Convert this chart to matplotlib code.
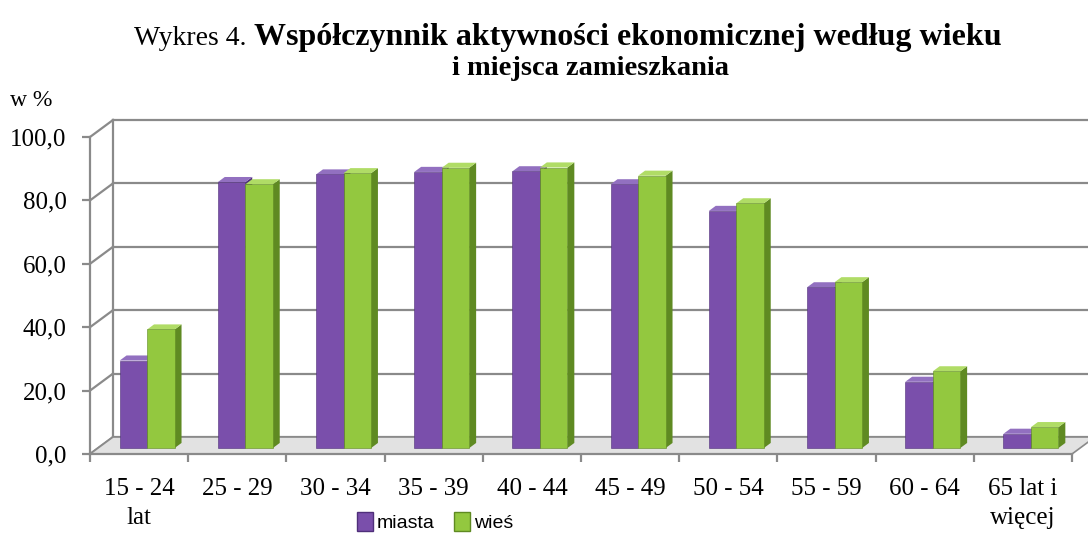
import numpy as np
import matplotlib
matplotlib.use("Agg")
import matplotlib.pyplot as plt
from matplotlib.patches import Polygon, Patch

# data
categories = ["15 - 24\nlat", "25 - 29", "30 - 34", "35 - 39", "40 - 44",
              "45 - 49", "50 - 54", "55 - 59", "60 - 64", "65 lat i\nwięcej"]
miasta = [27.6, 83.9, 86.3, 87.1, 87.3, 83.2, 74.8, 50.7, 20.9, 4.5]
wies = [37.4, 83.2, 86.7, 88.4, 88.5, 85.9, 77.2, 52.3, 24.2, 6.6]
yticks = [0, 20, 40, 60, 80, 100]
series_names = ["miasta", "wieś"]

plt.rcParams["font.family"] = ["Liberation Serif", "DejaVu Serif"]

GRID = "#8a8a8a"
DX, DY = 0.234, 5.36      # depth of the fake 3d box, in data units
F0, F1 = 0.35, 0.65       # depth of bar front / back faces
W = 0.28                  # bar width

colors = {
    "miasta": ("#7a4fab", "#4f2f7a", "#9270c0"),
    "wieś": ("#93c83f", "#5f8a22", "#b0dc66"),
}

fig = plt.figure(figsize=(10.88, 5.41), dpi=100)
ax = fig.add_axes([90 / 1088, 87 / 541, 982 / 1088, 317 / 541])
n = len(categories)
ax.set_xlim(0, n)
ax.set_ylim(0, 100)

# back wall gridlines + left wall diagonals
for v in yticks:
    ax.plot([DX, n + DX + 0.5], [v + DY, v + DY], color=GRID, lw=1.6,
            clip_on=False, zorder=1)
    ax.plot([0, DX], [v, v + DY], color=GRID, lw=1.6, clip_on=False, zorder=1)
ax.plot([DX, DX], [DY, 100 + DY], color=GRID, lw=1.6, clip_on=False, zorder=1)

# floor
floor = Polygon([(0, 0), (n, 0), (n + DX, DY), (DX, DY)], closed=True,
                facecolor="#e2e2e2", edgecolor=GRID, lw=1.2, clip_on=False,
                zorder=1.5)
ax.add_patch(floor)


def draw_bar(x0, v, name):
    front, side, top = colors[name]
    x1 = x0 + W
    fx0, fx1 = x0 + F0 * DX, x1 + F0 * DX
    bx0, bx1 = x0 + F1 * DX, x1 + F1 * DX
    y0, y1 = F0 * DY, F1 * DY
    ax.add_patch(Polygon([(fx1, y0), (bx1, y1), (bx1, v + y1), (fx1, v + y0)],
                         facecolor=side, edgecolor="none", clip_on=False, zorder=3))
    ax.add_patch(Polygon([(fx0, v + y0), (fx1, v + y0), (bx1, v + y1), (bx0, v + y1)],
                         facecolor=top, edgecolor="none", clip_on=False, zorder=3))
    ax.add_patch(Polygon([(fx0, y0), (fx1, y0), (fx1, v + y0), (fx0, v + y0)],
                         facecolor=front, edgecolor=side, lw=0.4, clip_on=False,
                         zorder=3))


for i in range(n):
    c = i + 0.5
    draw_bar(c - W, miasta[i], "miasta")
    draw_bar(c, wies[i], "wieś")

# axes styling
for s in ["top", "right"]:
    ax.spines[s].set_visible(False)
for s in ["left", "bottom"]:
    ax.spines[s].set_color(GRID)
    ax.spines[s].set_linewidth(1.6)
ax.set_yticks(yticks)
ax.set_yticklabels([f"{v:.1f}".replace(".", ",") for v in yticks], fontsize=18)
ax.set_xticks(np.arange(n + 1))
ax.set_xticklabels([])
ax.set_xticks(np.arange(n) + 0.5, minor=True)
ax.set_xticklabels(categories, minor=True, fontsize=18, linespacing=1.45)
ax.tick_params(axis="both", which="major", color=GRID, width=1.6, length=6)
ax.tick_params(axis="x", which="minor", length=0, pad=17)
ax.tick_params(axis="y", pad=11)

# title, two fonts on line one
r = fig.canvas.get_renderer()
t1 = fig.text(0, 0.917, "Wykres 4. ", fontsize=20, va="baseline")
t2 = fig.text(0, 0.917, "Współczynnik aktywności ekonomicznej według wieku",
              fontsize=23, fontweight="bold", va="baseline")
w1 = t1.get_window_extent(r).width
w2 = t2.get_window_extent(r).width
left = 568 - (w1 + w2) / 2
t1.set_x(left / 1088)
t2.set_x((left + w1) / 1088)
fig.text(591 / 1088, 0.862, "i miejsca zamieszkania", fontsize=20.5,
         fontweight="bold", ha="center", va="baseline")
fig.text(10 / 1088, 0.815, "w %", fontsize=17, va="center")

handles = [Patch(facecolor=colors[s][0], edgecolor=colors[s][1]) for s in series_names]
fig.legend(handles, series_names, loc="center", bbox_to_anchor=(0.4, 0.035),
           ncol=2, frameon=False, handlelength=0.8, handleheight=1.1,
           handletextpad=0.2, columnspacing=1.0,
           prop={"family": "Liberation Sans", "size": 14})

fig.savefig("out.png", dpi=100)
